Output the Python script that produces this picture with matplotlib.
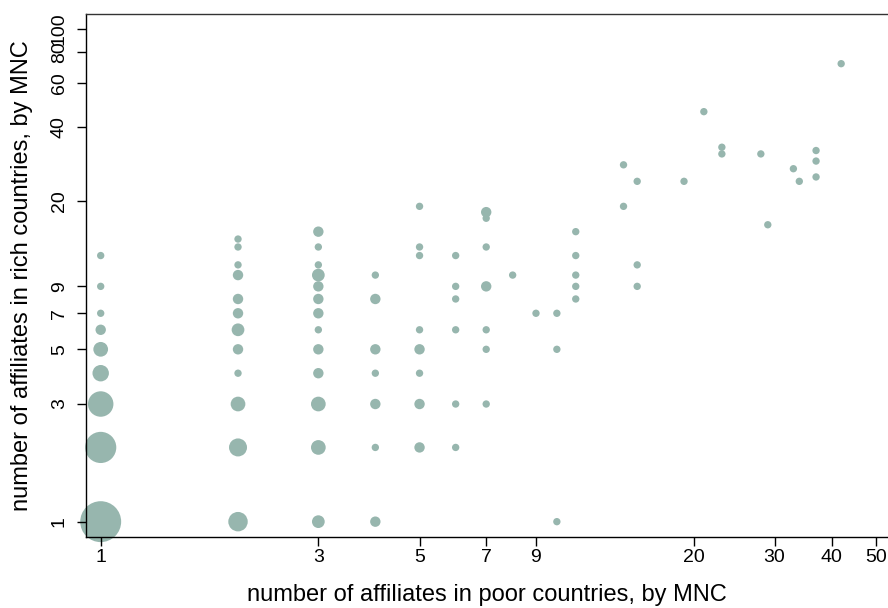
import numpy as np
import matplotlib
matplotlib.use('Agg')
import matplotlib.pyplot as plt

plt.rcParams['font.family'] = ['Liberation Sans', 'DejaVu Sans']

# affiliates in poor countries (x), in rich countries (y), number of MNCs (bubble size)
poor = [1, 1, 1, 1, 1, 1, 1, 1, 1,
        2, 2, 2, 2, 2, 2, 2, 2, 2, 2, 2, 2,
        3, 3, 3, 3, 3, 3, 3, 3, 3, 3, 3, 3, 3,
        4, 4, 4, 4, 4, 4, 4,
        5, 5, 5, 5, 5, 5, 5, 5,
        6, 6, 6, 6, 6, 6,
        7, 7, 7, 7, 7, 7, 7,
        8, 9, 10, 10, 10,
        11, 11, 11, 11, 11,
        14, 14, 15, 15, 15, 19, 21, 23, 23, 28, 29, 33, 34, 37, 37, 37, 42]
rich = [12, 9, 7, 6, 5, 4, 3, 2, 1,
        14, 13, 11, 10, 8, 7, 6, 5, 4, 3, 2, 1,
        15, 13, 11, 10, 9, 8, 7, 6, 5, 4, 3, 2, 1,
        10, 8, 5, 4, 3, 2, 1,
        19, 13, 12, 6, 5, 4, 3, 2,
        12, 9, 8, 6, 3, 2,
        18, 17, 13, 9, 6, 5, 3,
        10, 7, 7, 5, 1,
        15, 12, 10, 9, 8,
        28, 19, 24, 11, 9, 24, 46, 33, 31, 31, 16, 27, 24, 32, 29, 25, 72]
count = [1, 1, 1, 2, 4, 5, 12, 18, 31,
         1, 1, 1, 2, 2, 2, 3, 2, 1, 4, 6, 7,
         2, 1, 1, 3, 2, 2, 2, 1, 2, 2, 4, 4, 3,
         1, 2, 2, 1, 2, 1, 2,
         1, 1, 1, 1, 2, 1, 2, 2,
         1, 1, 1, 1, 1, 1,
         2, 1, 1, 2, 1, 1, 1,
         1, 1, 1, 1, 1,
         1, 1, 1, 1, 1,
         1, 1, 1, 1, 1, 1, 1, 1, 1, 1, 1, 1, 1, 1, 1, 1, 1]

xticks = [1, 3, 5, 7, 9, 20, 30, 40, 50]
yticks = [1, 3, 5, 7, 9, 20, 40, 60, 80, 100]

fig = plt.figure(figsize=(8.88, 6.08), dpi=100)
ax = fig.add_axes([86/888, 1 - 536.7/608, 802/888, 522.7/608])

ax.scatter(poor, rich, s=np.array(count) * 28.0, color='#97b6ae',
           edgecolors='none', clip_on=False, zorder=1)

ax.set_xscale('log')
ax.set_yscale('log')
ax.set_xlim(0.9285, 53.2)
ax.set_ylim(0.869, 114.5)

ax.set_xticks(xticks)
ax.set_xticklabels([str(t) for t in xticks])
ax.set_yticks(yticks)
ax.set_yticklabels([str(t) for t in yticks], rotation=90, va='center')
ax.minorticks_off()

ax.tick_params(axis='both', length=6.5, width=1.0, labelsize=14)
ax.tick_params(axis='x', pad=2.5)
ax.tick_params(axis='y', pad=6.5)

for side in ['left', 'bottom', 'top']:
    ax.spines[side].set_linewidth(1.0)
ax.spines['top'].set_color('#333333')
ax.spines['right'].set_visible(False)

ax.set_xlabel('number of affiliates in poor countries, by MNC', fontsize=17)
ax.set_ylabel('number of affiliates in rich countries, by MNC', fontsize=17)
ax.xaxis.set_label_coords(0.5, -0.09)
ax.yaxis.set_label_coords(-0.066, 0.5)

fig.savefig('out.png', dpi=100)
